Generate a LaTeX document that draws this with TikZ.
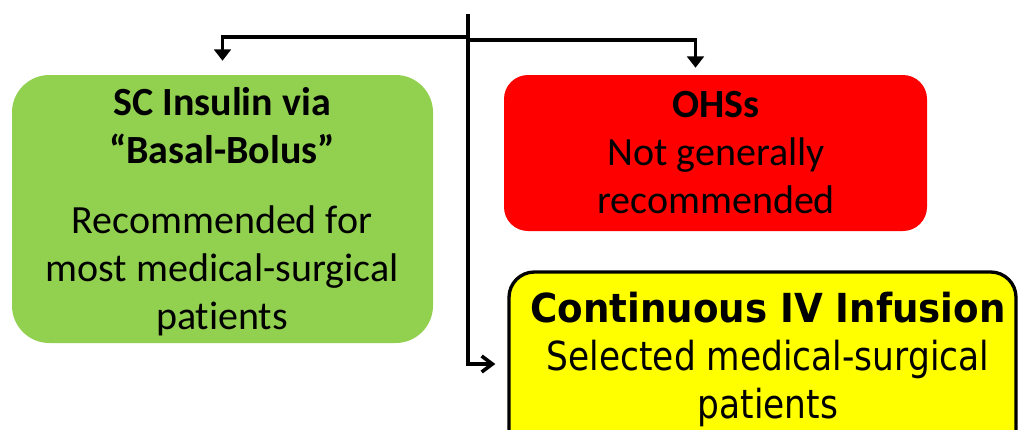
\documentclass[tikz,border=0pt]{standalone}
\usepackage{fontspec}
\setmainfont{Carlito}[Ligatures=NoCommon]
\newfontfamily\ivfont[FakeStretch=0.86]{DejaVu Sans}
\newfontfamily\ivboldfont[FakeStretch=0.93]{DejaVu Sans}
\usetikzlibrary{arrows.meta,calc}

\definecolor{scgreen}{HTML}{92D050}
\definecolor{ohsred}{HTML}{FF0000}
\definecolor{ivyellow}{HTML}{FFFF00}

\tikzset{
  branch/.style={line width=2.7pt},
  txt/.style={align=center,anchor=base,font=\fontsize{30}{36}\selectfont}
}

\begin{document}
\begin{tikzpicture}[x=0.75pt,y=-0.75pt]
  \useasboundingbox (0,0) rectangle (1018,429);
  \clip (0,0) rectangle (1018,429);

  % the three boxes
  \node[fill=scgreen,rounded corners=28pt,minimum width=315.75pt,minimum height=201pt] (scbox) at (222.5,209) {};
  \node[fill=ohsred,rounded corners=18pt,minimum width=317.25pt,minimum height=117pt] (ohsbox) at (715.5,153) {};
  \node[fill=ivyellow,draw,line width=2.5pt,rounded corners=19pt,minimum width=380.25pt,minimum height=138pt] (ivbox) at (762.5,364) {};

  % texts, placed at the baseline of their last line
  \node[txt] (sctext) at (222,329) {\textbf{SC Insulin via}\\\textbf{“Basal-Bolus”}\\[16pt]Recommended for\\most medical-surgical\\patients};
  \node[txt] (ohstext) at (716,213) {\textbf{OHSs}\\Not generally\\recommended};
  \node[txt,font=\ivfont\fontsize{30}{36}\selectfont] (ivtext) at (768,418) {{\ivboldfont\bfseries Continuous IV Infusion}\\Selected medical-surgical\\patients};

  % connectors
  \coordinate (top) at (468,14);
  \coordinate (lsplit) at (468,37);
  \coordinate (rsplit) at (468,40);

  \draw[branch,-{Straight Barb[length=8pt,width=12pt]}] (top) |- ($(ivbox.west)+(-12,0)$);
  \draw[branch,-{Triangle[width=12.5pt,length=8.5pt]}] (lsplit) -| ($(scbox.north)+(0,-14)$);
  \draw[branch,-{Triangle[width=12.5pt,length=8.5pt]}] (rsplit) -| ($(ohsbox.north)+(-20,-7)$);
\end{tikzpicture}
\end{document}
